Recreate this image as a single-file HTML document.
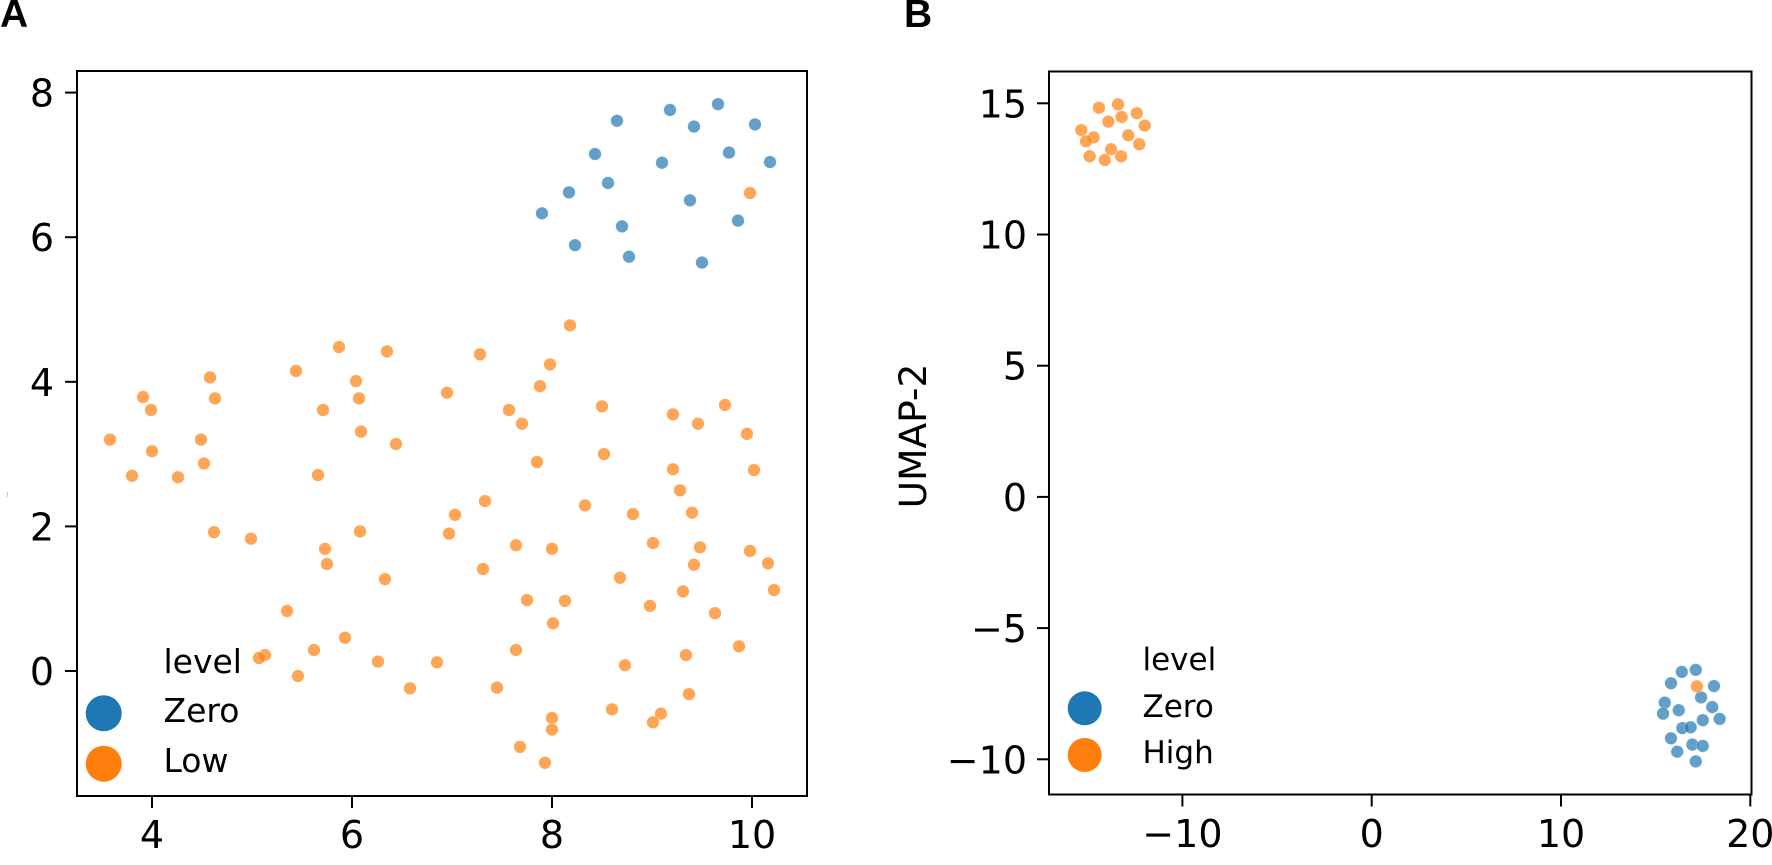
<!DOCTYPE html>
<html>
<head>
<meta charset="utf-8">
<title>Scatter panels A and B</title>
<style>
html,body{margin:0;padding:0;background:#fff;width:1772px;height:865px;overflow:hidden}
svg{display:block}
text{font-family:"DejaVu Sans","Liberation Sans",sans-serif;fill:#000}
.panel-letter{font-family:"Liberation Sans",sans-serif;font-weight:700;font-size:39px}
</style>
</head>
<body>
<svg id="figure" width="1772" height="865" viewBox="0 0 1772 865" xmlns="http://www.w3.org/2000/svg">
  <rect x="0" y="0" width="1772" height="865" fill="#fff"/>
  <text class="panel-letter" x="0" y="27">A</text>
  <text class="panel-letter" x="904" y="27">B</text>
  <rect x="7" y="492" width="1" height="5" fill="#ccc"/>
  <g id="panel-a"></g>
  <g id="panel-b"></g>

  <g>
    <text x="163.5" y="673" font-size="33">level</text>
    <circle cx="103.7" cy="713.3" r="18" fill="#1f77b4"/>
    <text x="163.5" y="722" font-size="33">Zero</text>
    <circle cx="103.7" cy="763.7" r="18" fill="#ff7f0e"/>
    <text x="163.5" y="772" font-size="33">Low</text>
  </g>
  <g>
    <text x="1142.5" y="670" font-size="31">level</text>
    <circle cx="1084.7" cy="708.3" r="17" fill="#1f77b4"/>
    <text x="1142.5" y="717" font-size="31">Zero</text>
    <circle cx="1084.7" cy="755" r="17" fill="#ff7f0e"/>
    <text x="1142.5" y="763" font-size="31">High</text>
  </g>
  <text transform="translate(926,436) rotate(-90)" text-anchor="middle" font-size="37.5">UMAP-2</text>
</svg>
<script>
const aZeroX = [7.90,8.17,8.43,8.65,8.56,8.23,8.70,8.77,9.18,9.10,9.42,9.38,9.50,9.66,9.77,10.03,10.18,9.86];
const aZeroY = [6.33,6.62,7.15,7.61,6.75,5.89,6.15,5.73,7.76,7.03,7.53,6.51,5.65,7.84,7.17,7.56,7.04,6.23];
const aLowX = [9.98,8.18,7.28,7.98,3.58,3.91,3.99,4.00,3.80,4.26,4.49,4.52,4.58,4.63,4.62,4.99,5.44,5.87,6.35,6.04,6.07,5.71,6.09,6.44,5.66,6.08,5.73,5.75,6.33,5.35,6.95,7.88,7.57,7.70,8.50,9.21,9.46,9.73,9.95,7.85,8.52,9.21,10.02,9.28,7.33,7.03,6.97,8.33,8.81,9.40,7.64,8.00,9.01,9.48,9.98,10.16,9.42,7.31,8.68,9.31,10.22,7.75,8.13,8.98,9.63,5.62,5.93,5.13,5.07,5.46,6.26,6.58,6.85,7.45,7.64,8.01,9.87,9.34,8.73,9.37,8.60,9.09,9.01,8.00,8.00,7.68,7.93];
const aLowY = [6.61,4.78,4.38,4.24,3.20,3.79,3.61,3.04,2.70,2.68,3.20,2.87,4.06,3.77,1.92,1.83,4.15,4.48,4.42,4.01,3.77,3.61,3.31,3.14,2.71,1.93,1.69,1.48,1.27,0.83,3.85,3.94,3.61,3.42,3.66,3.55,3.42,3.68,3.28,2.89,3.00,2.79,2.78,2.50,2.35,2.16,1.90,2.29,2.17,2.19,1.74,1.69,1.77,1.71,1.66,1.49,1.47,1.41,1.29,1.10,1.12,0.98,0.97,0.90,0.80,0.29,0.46,0.22,0.18,-0.07,0.13,-0.24,0.12,-0.23,0.29,0.66,0.34,0.22,0.08,-0.32,-0.53,-0.59,-0.71,-0.65,-0.81,-1.05,-1.27];
const bZeroX = [17.12,16.38,15.81,18.08,17.40,15.48,17.99,16.22,15.39,18.38,17.49,16.41,16.85,15.81,16.94,17.49,16.14,17.12];
const bZeroY = [-6.59,-6.67,-7.10,-7.21,-7.64,-7.84,-8.01,-8.13,-8.26,-8.46,-8.51,-8.81,-8.78,-9.20,-9.44,-9.49,-9.71,-10.08];
const bHighX = [-14.41,-13.40,-12.41,-13.21,-13.91,-11.99,-15.34,-14.69,-15.09,-12.86,-12.28,-13.77,-13.24,-14.10,-14.90,17.18];
const bHighY = [14.83,14.96,14.62,14.48,14.30,14.15,13.98,13.70,13.55,13.78,13.44,13.25,12.98,12.84,12.98,-7.22];
const aXTicks = [4,6,8,10];
const aYTicks = [0,2,4,6,8];
const bXTicks = [-10,0,10,20];
const bYTicks = [-10,-5,0,5,10,15];

const NS = 'http://www.w3.org/2000/svg';
function xA(v){ return 152 + (v - 4) * 100; }
function yA(v){ return 671 - v * 72.3; }
function xB(v){ return 1371.7 + v * 18.93; }
function yB(v){ return 103.3 + (15 - v) * 26.24; }
function fmt(v){ return v < 0 ? '\u2212' + Math.abs(v) : String(v); }

function drawFrame(g, l, t, r, b, name){
  const el = document.createElementNS(NS, 'rect');
  
  
  el.setAttribute('x', l);
  el.setAttribute('y', t);
  el.setAttribute('width', r - l);
  el.setAttribute('height', b - t);
  el.setAttribute('fill', 'none');
  el.setAttribute('stroke', '#000');
  el.setAttribute('stroke-width', '2');
  g.appendChild(el);
}
function drawXTicks(g, ticks, sx, bottom, base){
  ticks.forEach(function(v){
    const ln = document.createElementNS(NS, 'line');
    
    
    ln.setAttribute('x1', sx(v));
    ln.setAttribute('x2', sx(v));
    ln.setAttribute('y1', bottom);
    ln.setAttribute('y2', bottom + 12);
    ln.setAttribute('stroke', '#000');
    ln.setAttribute('stroke-width', '2');
    g.appendChild(ln);
    const tx = document.createElementNS(NS, 'text');
    
    
    tx.setAttribute('x', sx(v));
    tx.setAttribute('y', base);
    tx.setAttribute('text-anchor', 'middle');
    tx.setAttribute('font-size', '38');
    tx.textContent = fmt(v);
    g.appendChild(tx);
  });
}
function drawYTicks(g, ticks, sy, left, labelRight){
  ticks.forEach(function(v){
    const ln = document.createElementNS(NS, 'line');
    
    
    ln.setAttribute('x1', left - 12);
    ln.setAttribute('x2', left);
    ln.setAttribute('y1', sy(v));
    ln.setAttribute('y2', sy(v));
    ln.setAttribute('stroke', '#000');
    ln.setAttribute('stroke-width', '2');
    g.appendChild(ln);
    const tx = document.createElementNS(NS, 'text');
    
    
    tx.setAttribute('x', labelRight);
    tx.setAttribute('y', sy(v) + 14);
    tx.setAttribute('text-anchor', 'end');
    tx.setAttribute('font-size', '38');
    tx.textContent = fmt(v);
    g.appendChild(tx);
  });
}
function drawPoints(g, xs, ys, sx, sy, color, name){
  xs.forEach(function(x, i){
    const c = document.createElementNS(NS, 'circle');
    
    
    c.setAttribute('cx', sx(x));
    c.setAttribute('cy', sy(ys[i]));
    c.setAttribute('r', '6.3');
    c.setAttribute('fill', color);
    c.setAttribute('fill-opacity', '0.7');
    c.setAttribute('stroke', '#fff');
    c.setAttribute('stroke-opacity', '0.5');
    c.setAttribute('stroke-width', '0.6');
    g.appendChild(c);
  });
}

const gA = document.getElementById('panel-a');
const gB = document.getElementById('panel-b');
drawPoints(gA, aZeroX, aZeroY, xA, yA, '#1f77b4', 'point-a-zero');
drawPoints(gA, aLowX, aLowY, xA, yA, '#ff7f0e', 'point-a-low');
drawFrame(gA, 77, 71, 807, 796, 'plot-frame-a');
drawXTicks(gA, aXTicks, xA, 796, 848);
drawYTicks(gA, aYTicks, yA, 77, 54);
drawPoints(gB, bZeroX, bZeroY, xB, yB, '#1f77b4', 'point-b-zero');
drawPoints(gB, bHighX, bHighY, xB, yB, '#ff7f0e', 'point-b-high');
drawFrame(gB, 1049, 71.5, 1751.5, 794.5, 'plot-frame-b');
drawXTicks(gB, bXTicks, xB, 794.5, 847);
drawYTicks(gB, bYTicks, yB, 1049, 1027);
</script>
</body>
</html>
